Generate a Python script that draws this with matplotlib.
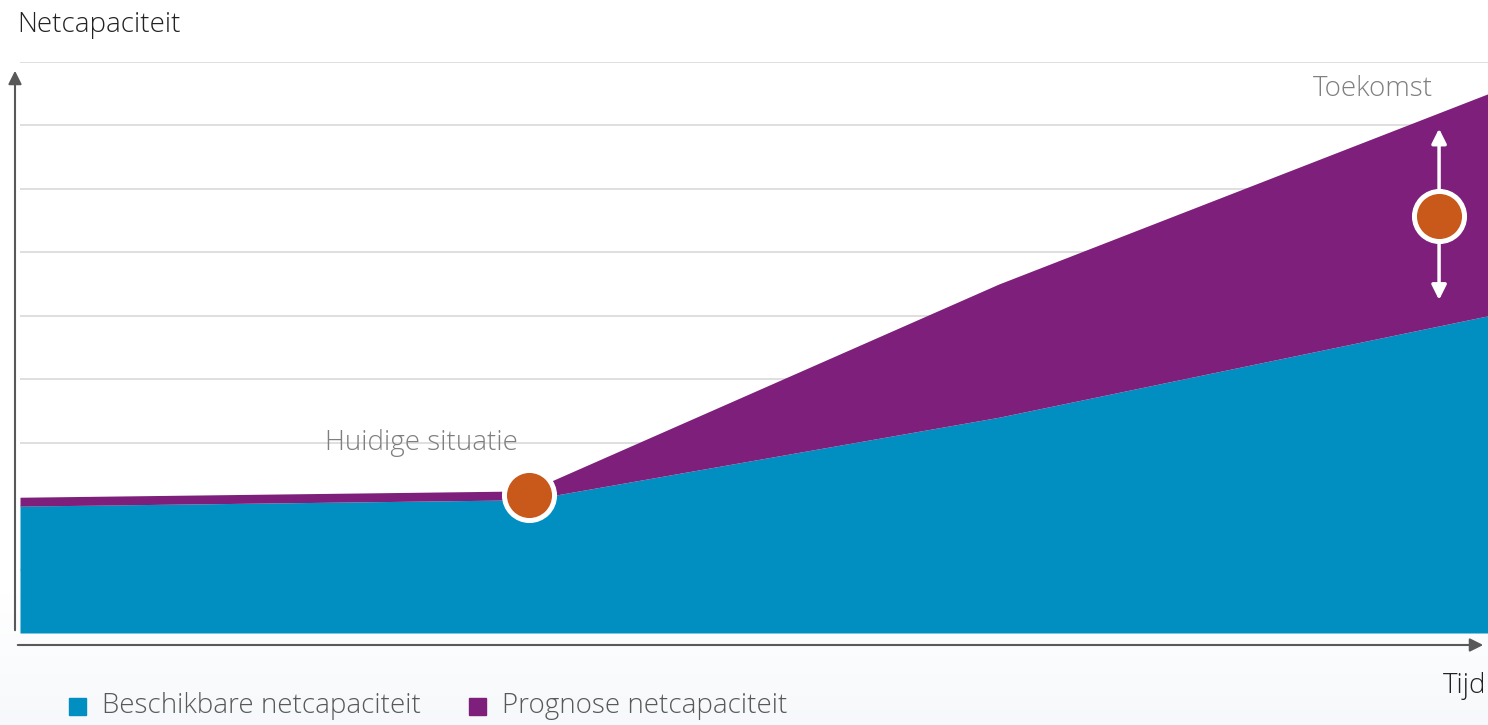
import numpy as np
import matplotlib.pyplot as plt
from matplotlib.patches import FancyArrowPatch

plt.rcParams['font.family'] = ['Open Sans', 'DejaVu Sans']
plt.rcParams['font.weight'] = 'light'

# data (arbitrary units)
tijd = [0, 1.04, 2.0, 3.0]
beschikbaar = [2.0, 2.1, 3.4, 5.0]
prognose = [2.14, 2.24, 5.5, 8.5]
nu_x, nu_y = 1.04, 2.17
toekomst_x, toekomst_y = 2.90, 6.58
band_lo, band_hi = 5.25, 7.95

blue = '#008FC0'
purple = '#7E1F7B'
orange = '#C9581B'
grey = '#595959'

fig = plt.figure(figsize=(14.88, 7.25), dpi=100)

# faint gradient at the bottom of the canvas
bg = fig.add_axes([0, 0, 1, 1], zorder=-5)
grad = np.linspace(0, 1, 200)
k = np.clip((grad - 0.82) / 0.18, 0, 1)
img = np.ones((200, 1, 3))
img[:, 0, 0] = 1 - 0.035 * k
img[:, 0, 1] = 1 - 0.025 * k
img[:, 0, 2] = 1 - 0.015 * k
bg.imshow(img, aspect='auto', extent=[0, 1, 0, 1], origin='upper')
bg.axis('off')

W, H = 1488, 725
ax = fig.add_axes([20 / W, 1 - 633 / H, 1 - 20 / W, (633 - 62) / H])
ax.set_xlim(0, 3)
ax.set_ylim(0, 9)
ax.patch.set_alpha(0)
for s in ax.spines.values():
    s.set_visible(False)
ax.set_xticks([])
ax.set_yticks(np.arange(1, 10))
ax.tick_params(left=False, labelleft=False)
ax.grid(axis='y', color='#d9d9d9', linewidth=1.2)
ax.set_axisbelow(True)

ax.fill_between(tijd, 0, beschikbaar, color=blue, linewidth=0, zorder=2)
ax.fill_between(tijd, beschikbaar, prognose, color=purple, linewidth=0, zorder=2)

# arrows around the future point
for y0, y1 in [(toekomst_y, band_hi), (toekomst_y, band_lo)]:
    ax.annotate('', xy=(toekomst_x, y1), xytext=(toekomst_x, y0),
                arrowprops=dict(arrowstyle='-|>', color='white', lw=2.5,
                                mutation_scale=22, shrinkA=0, shrinkB=0), zorder=3)

ax.scatter([nu_x, toekomst_x], [nu_y, toekomst_y], s=1300, color=orange,
           edgecolor='white', linewidth=3.6, zorder=4, clip_on=False)

ax.text(nu_x - 0.22, 2.99, 'Huidige situatie', fontsize=20, color='#7f7f7f',
        ha='center', va='center')
ax.text(2.765, 8.57, 'Toekomst', fontsize=20, color='#7f7f7f',
        ha='center', va='center')

# axis arrows in figure coordinates
fig.patches.append(FancyArrowPatch((15 / W, 1 - 633 / H), (15 / W, 1 - 68 / H),
                                   transform=fig.transFigure, arrowstyle='-|>',
                                   mutation_scale=20, color=grey, lw=1.5))
fig.patches.append(FancyArrowPatch((15 / W, 1 - 645 / H), (1486 / W, 1 - 645 / H),
                                   transform=fig.transFigure, arrowstyle='-|>',
                                   mutation_scale=20, color=grey, lw=1.5))

fig.text(17 / W, 1 - 25 / H, 'Netcapaciteit', fontsize=20, color='#222222',
         ha='left', va='center')
fig.text(1486 / W, 1 - 686 / H, 'Tijd', fontsize=20, color='#222222',
         ha='right', va='center')

# legend
fig.patches.append(plt.Rectangle((69 / W, 1 - 715 / H), 17 / W, 17 / H,
                                 transform=fig.transFigure, color=blue))
fig.text(102 / W, 1 - 706 / H, 'Beschikbare netcapaciteit', fontsize=20,
         color=grey, ha='left', va='center')
fig.patches.append(plt.Rectangle((469 / W, 1 - 715 / H), 17 / W, 17 / H,
                                 transform=fig.transFigure, color=purple))
fig.text(502 / W, 1 - 706 / H, 'Prognose netcapaciteit', fontsize=20,
         color=grey, ha='left', va='center')

fig.savefig('out.png', dpi=100)
